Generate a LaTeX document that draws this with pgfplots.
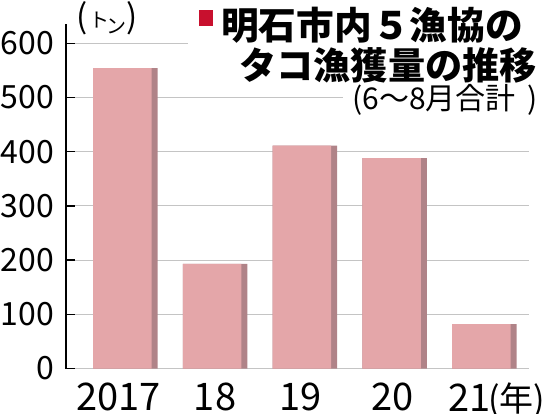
\documentclass[border=0pt]{standalone}
\usepackage{fontspec}
\setmainfont{Noto Sans CJK JP}
\usepackage{pgfplots}
\pgfplotsset{compat=1.18}

\definecolor{barpink}{HTML}{E4A6A9}
\definecolor{barshade}{HTML}{B08388}
\definecolor{titlered}{HTML}{C8102E}
\definecolor{gridgray}{HTML}{C4C4C4}

\begin{document}
\begin{tikzpicture}[x=1pt,y=1pt]
\useasboundingbox (0,0) rectangle (547,413);
\begin{axis}[
    at={(66pt,44.5pt)}, anchor=south west,
    scale only axis, width=462.6pt, height=344.5pt,
    xmin=-0.6607, xmax=4.4936,
    ymin=0, ymax=635.6,
    axis lines=left,
    axis line style={-},
    x axis line style={draw=none},
    y axis line style={black, line width=1.3pt},
    xtick={0,1,2,3,4},
    xticklabels={\makebox[0pt]{2017\hspace{14pt}}, 18, \makebox[0pt]{19\hspace{8pt}}, \makebox[0pt]{20\hspace{4pt}},
        \makebox[0pt][l]{\hspace{-36pt}21\hspace{-2pt}{\fontsize{34}{34}\selectfont(年)}}},
    xtick style={draw=none},
    ytick={0,100,...,600},
    tick align=inside,
    ytick style={black, line width=1.3pt},
    major tick length=9pt,
    ymajorgrids,
    major grid style={gridgray, line width=0.9pt},
    /pgf/number format/assume math mode=true,
    yticklabel style={font=\fontsize{32}{32}\selectfont, anchor=east, inner sep=0pt, xshift=-12pt},
    xticklabel style={font=\fontsize{38}{38}\selectfont, anchor=north, inner sep=0pt, yshift=-14pt},
]
% shadow strip on the right of each bar
\addplot[ybar, bar width=64.5pt, bar shift=0pt, fill=barshade, draw=none]
    coordinates {(0,554) (1,193) (2,411) (3,388) (4,82)};
% bar face
\addplot[ybar, bar width=58.5pt, bar shift=-3pt, fill=barpink, draw=none]
    coordinates {(0,554) (1,193) (2,411) (3,388) (4,82)};
\end{axis}

% unit
\node[anchor=base west, inner sep=0pt] at (76,384)
    {{\fontsize{33}{33}\selectfont(}\hspace{2pt}\raisebox{1pt}{\fontsize{20}{20}\selectfont ト}\hspace{-3pt}\raisebox{-5pt}{\fontsize{20}{20}\selectfont ン}{\fontsize{33}{33}\selectfont)}};

% title
\node[anchor=base west, inner xsep=11pt, inner ysep=2pt, fill=white,
      font=\fontsize{37.7}{37.7}\selectfont\bfseries] at (188,373)
    {\textcolor{titlered}{\rule[14pt]{14pt}{15.5pt}}\hspace{8pt}明石市内５漁協の\hspace{8pt}};
\node[anchor=base east, inner sep=0pt,
      font=\fontsize{37.2}{37.2}\selectfont\bfseries] at (537,333.5)
    {タコ漁獲量の推移};
\node[anchor=base east, inner xsep=9pt, inner ysep=2pt, fill=white,
      font=\fontsize{30}{30}\selectfont] at (547,303)
    {(6～8月合計\hspace{12pt})};
\end{tikzpicture}
\end{document}
